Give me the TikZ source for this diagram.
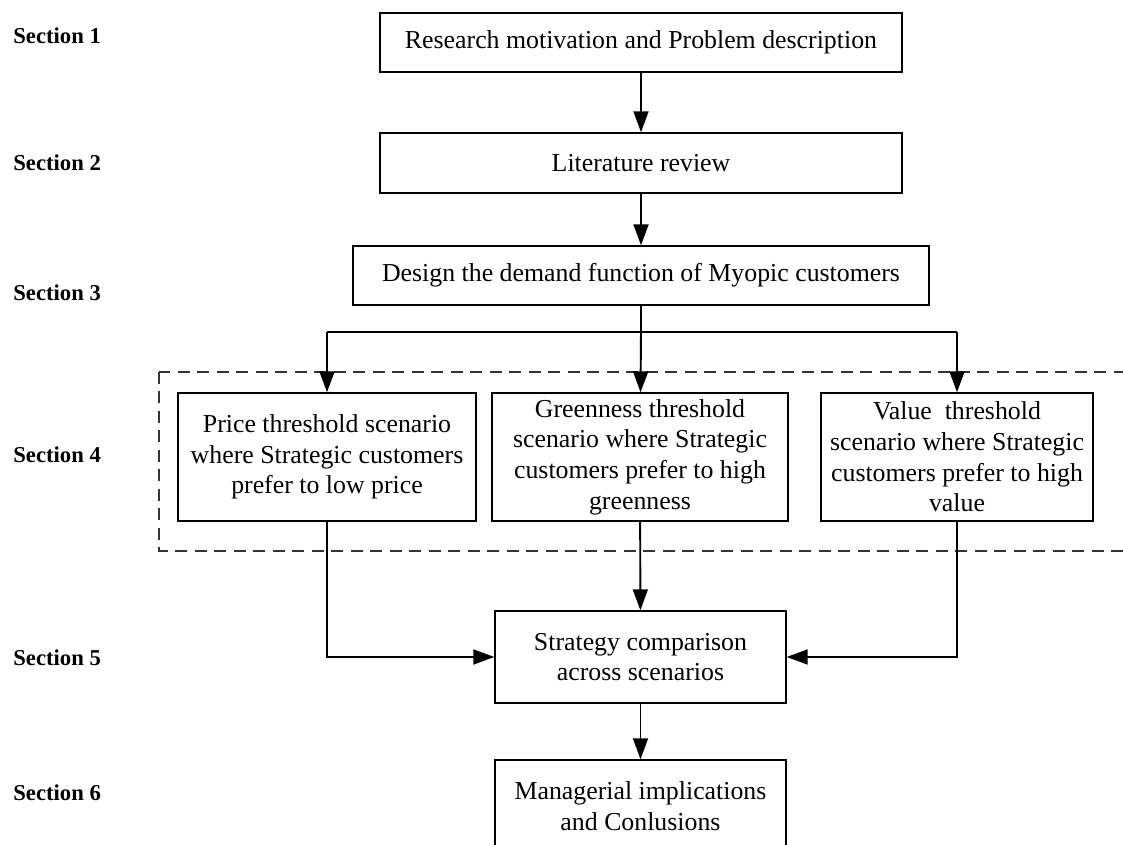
\documentclass[tikz,border=0pt]{standalone}
\usepackage{fontspec}
\setmainfont{Liberation Serif}
\usetikzlibrary{arrows.meta}

\begin{document}
\begin{tikzpicture}[
    blk/.style={draw, line width=0.8pt, align=center, inner sep=0pt,
                font=\fontsize{14.7}{17.4}\selectfont},
    sec/.style={anchor=west, inner sep=0pt,
                font=\fontsize{12.9}{15}\selectfont\bfseries},
    arr/.style={-{Triangle[length=0.42cm,width=0.3cm]}, line width=1.1pt},
    lin/.style={line width=1.1pt},
    grp/.style={draw=black!80, line width=0.7pt, dash pattern=on 0.24cm off 0.15cm}
]
\useasboundingbox (0,0) rectangle (22.46,16.9);
\clip (0,0) rectangle (22.46,16.9);

% section labels
\node[sec] (s1) at (0.26,16.18) {Section 1};
\node[sec] (s2) at (0.26,13.64) {Section 2};
\node[sec] (s3) at (0.26,11.04) {Section 3};
\node[sec] (s4) at (0.26, 7.80) {Section 4};
\node[sec] (s5) at (0.26, 3.74) {Section 5};
\node[sec] (s6) at (0.26, 1.04) {Section 6};

% boxes
\node[blk, minimum width=10.44cm, minimum height=1.18cm] (motiv)  at (12.82,16.05) {Research motivation and Problem description};
\node[blk, minimum width=10.44cm, minimum height=1.2cm]  (lit)    at (12.82,13.64) {Literature review};
\node[blk, minimum width=11.52cm, minimum height=1.18cm] (demand) at (12.82,11.39) {Design the demand function of Myopic customers};
\coordinate (fork) at (12.82,10.26);

\node[blk, minimum width=5.96cm, minimum height=2.56cm] (price) at ( 6.54,7.76) {Price threshold scenario\\where Strategic customers\\prefer to low price};
\node[blk, minimum width=5.92cm, minimum height=2.56cm] (green) at (12.80,7.76) {Greenness threshold\\scenario where Strategic\\customers prefer to high\\greenness};
\node[blk, minimum width=5.44cm, minimum height=2.56cm] (value) at (19.14,7.76) {Value\enspace threshold\\scenario where Strategic\\customers prefer to high\\value};

\node[blk, minimum width=5.82cm, minimum height=1.84cm] (comp)  at (12.81,3.76) {Strategy comparison\\across scenarios};
\node[blk, minimum width=5.82cm, minimum height=1.84cm] (manag) at (12.81,0.78) {Managerial implications\\and Conlusions};

% dashed group round section 4
\draw[grp] (3.18,9.46) rectangle (23.5,5.88);

% connectors
\draw[arr] (motiv) -- (lit);
\draw[arr] (lit) -- (demand);
\draw[lin] (demand) -- (fork);
\draw[lin] (fork -| price) -- (fork -| value);
\draw[arr] (fork -| price) -- (price);
\draw[arr] (fork) -- (green);
\draw[arr] (fork -| value) -- (value);

\draw[arr] (price) |- (comp);
\draw[arr] (green) -- (comp);
\draw[arr] (value) |- (comp);
\draw[arr] (comp) -- (manag);
\end{tikzpicture}
\end{document}
